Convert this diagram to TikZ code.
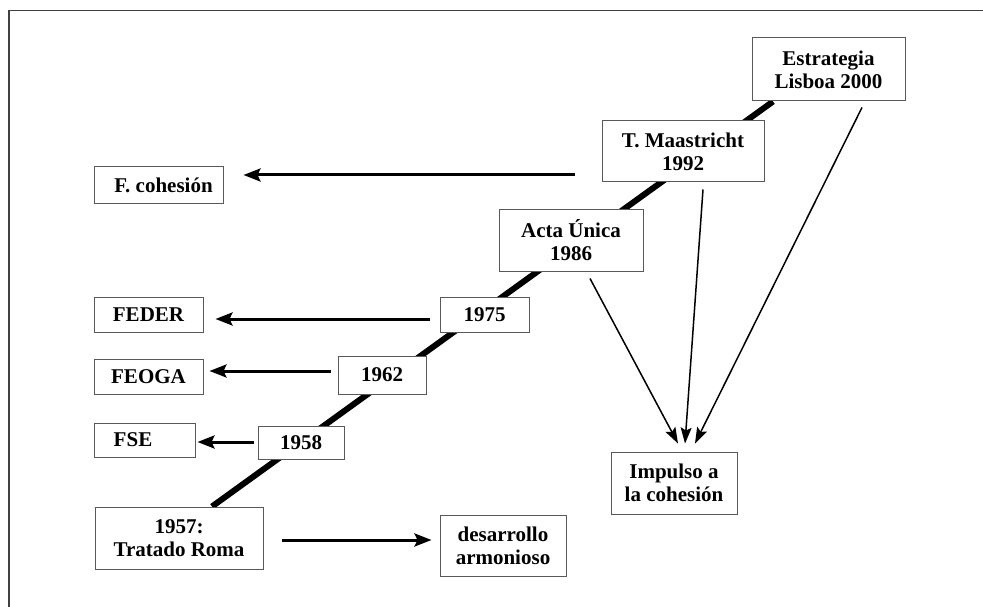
\documentclass[tikz,border=0pt]{standalone}
\usepackage{fontspec}
\setmainfont{Liberation Serif}
\usetikzlibrary{arrows.meta,backgrounds}
\begin{document}
\begin{tikzpicture}[x=1pt,y=-1pt,
  box/.style={draw=black!65,line width=1pt,fill=white,inner sep=0pt,align=center,
    font=\fontsize{21}{23}\selectfont\bfseries},
  bigarrow/.style={line width=3pt,-{Stealth[length=17pt,width=13pt,inset=3pt]}},
  thinarrow/.style={line width=1.5pt,-{Stealth[length=16pt,width=11pt,inset=3pt]}},
  timeline/.style={line width=6pt},
  frameline/.style={draw=black!75,line width=1.2pt}]
\useasboundingbox (0,0) rectangle (983,607);
\draw[frameline] (9,607) -- (9,10.5) -- (983,10.5);

\node[box,minimum width=153pt,minimum height=63pt] (lisboa) at (828.5,69.5) {Estrategia\\Lisboa 2000};
\node[box,minimum width=162pt,minimum height=61pt] (maas) at (683,151.5) {T. Maastricht\\1992};
\node[box,minimum width=129pt,minimum height=36pt] (fcoh) at (158.5,185) {\hspace*{10pt}F. cohesión};
\node[box,minimum width=144pt,minimum height=62pt] (acta) at (571,240) {Acta Única\\1986};
\node[box,minimum width=89pt,minimum height=35pt] (y1975) at (484.5,314.5) {1975};
\node[box,minimum width=109pt,minimum height=35pt] (feder) at (148.5,314.5) {FEDER};
\node[box,minimum width=88pt,minimum height=38pt] (y1962) at (382,375) {1962};
\node[box,minimum width=109pt,minimum height=35pt] (feoga) at (148.5,376.5) {FEOGA};
\node[box,minimum width=101pt,minimum height=34pt] (fse) at (144.5,440) {FSE\hspace*{23pt}};
\node[box,minimum width=86pt,minimum height=33pt] (y1958) at (301,442.5) {1958};
\node[box,minimum width=168pt,minimum height=62pt] (roma) at (179,538) {1957:\\Tratado Roma};
\node[box,minimum width=126pt,minimum height=61pt] (desarr) at (503,545.5) {desarrollo\\armonioso};
\node[box,minimum width=126pt,minimum height=62pt] (impulso) at (674,483) {Impulso a\\la cohesión};

\begin{scope}[on background layer]
\draw[timeline] ([xshift=33pt]roma.north) -- ([xshift=-55.5pt]lisboa.south);
\end{scope}

\draw[bigarrow] ([xshift=-27pt,yshift=-23.5pt]maas.west) -- ([xshift=20pt,yshift=10pt]fcoh.east);
\draw[bigarrow] ([xshift=-10pt,yshift=-4.5pt]y1975.west) -- ([xshift=12pt,yshift=-4.5pt]feder.east);
\draw[bigarrow] ([xshift=-7pt,yshift=4pt]y1962.west) -- ([xshift=6pt,yshift=5.5pt]feoga.east);
\draw[bigarrow] ([xshift=-4pt,yshift=0.5pt]y1958.west) -- ([xshift=2pt,yshift=-2pt]fse.east);
\draw[bigarrow] ([xshift=18pt,yshift=-2pt]roma.east) -- ([xshift=-8pt,yshift=5.5pt]desarr.west);

\draw[thinarrow] ([xshift=19pt,yshift=-7pt]acta.south) -- ([xshift=4pt,yshift=8pt]impulso.north);
\draw[thinarrow] ([xshift=20pt,yshift=-7pt]maas.south) -- ([xshift=11pt,yshift=8pt]impulso.north);
\draw[thinarrow] ([xshift=33.5pt,yshift=-6pt]lisboa.south) -- ([xshift=21pt,yshift=8pt]impulso.north);
\end{tikzpicture}
\end{document}
